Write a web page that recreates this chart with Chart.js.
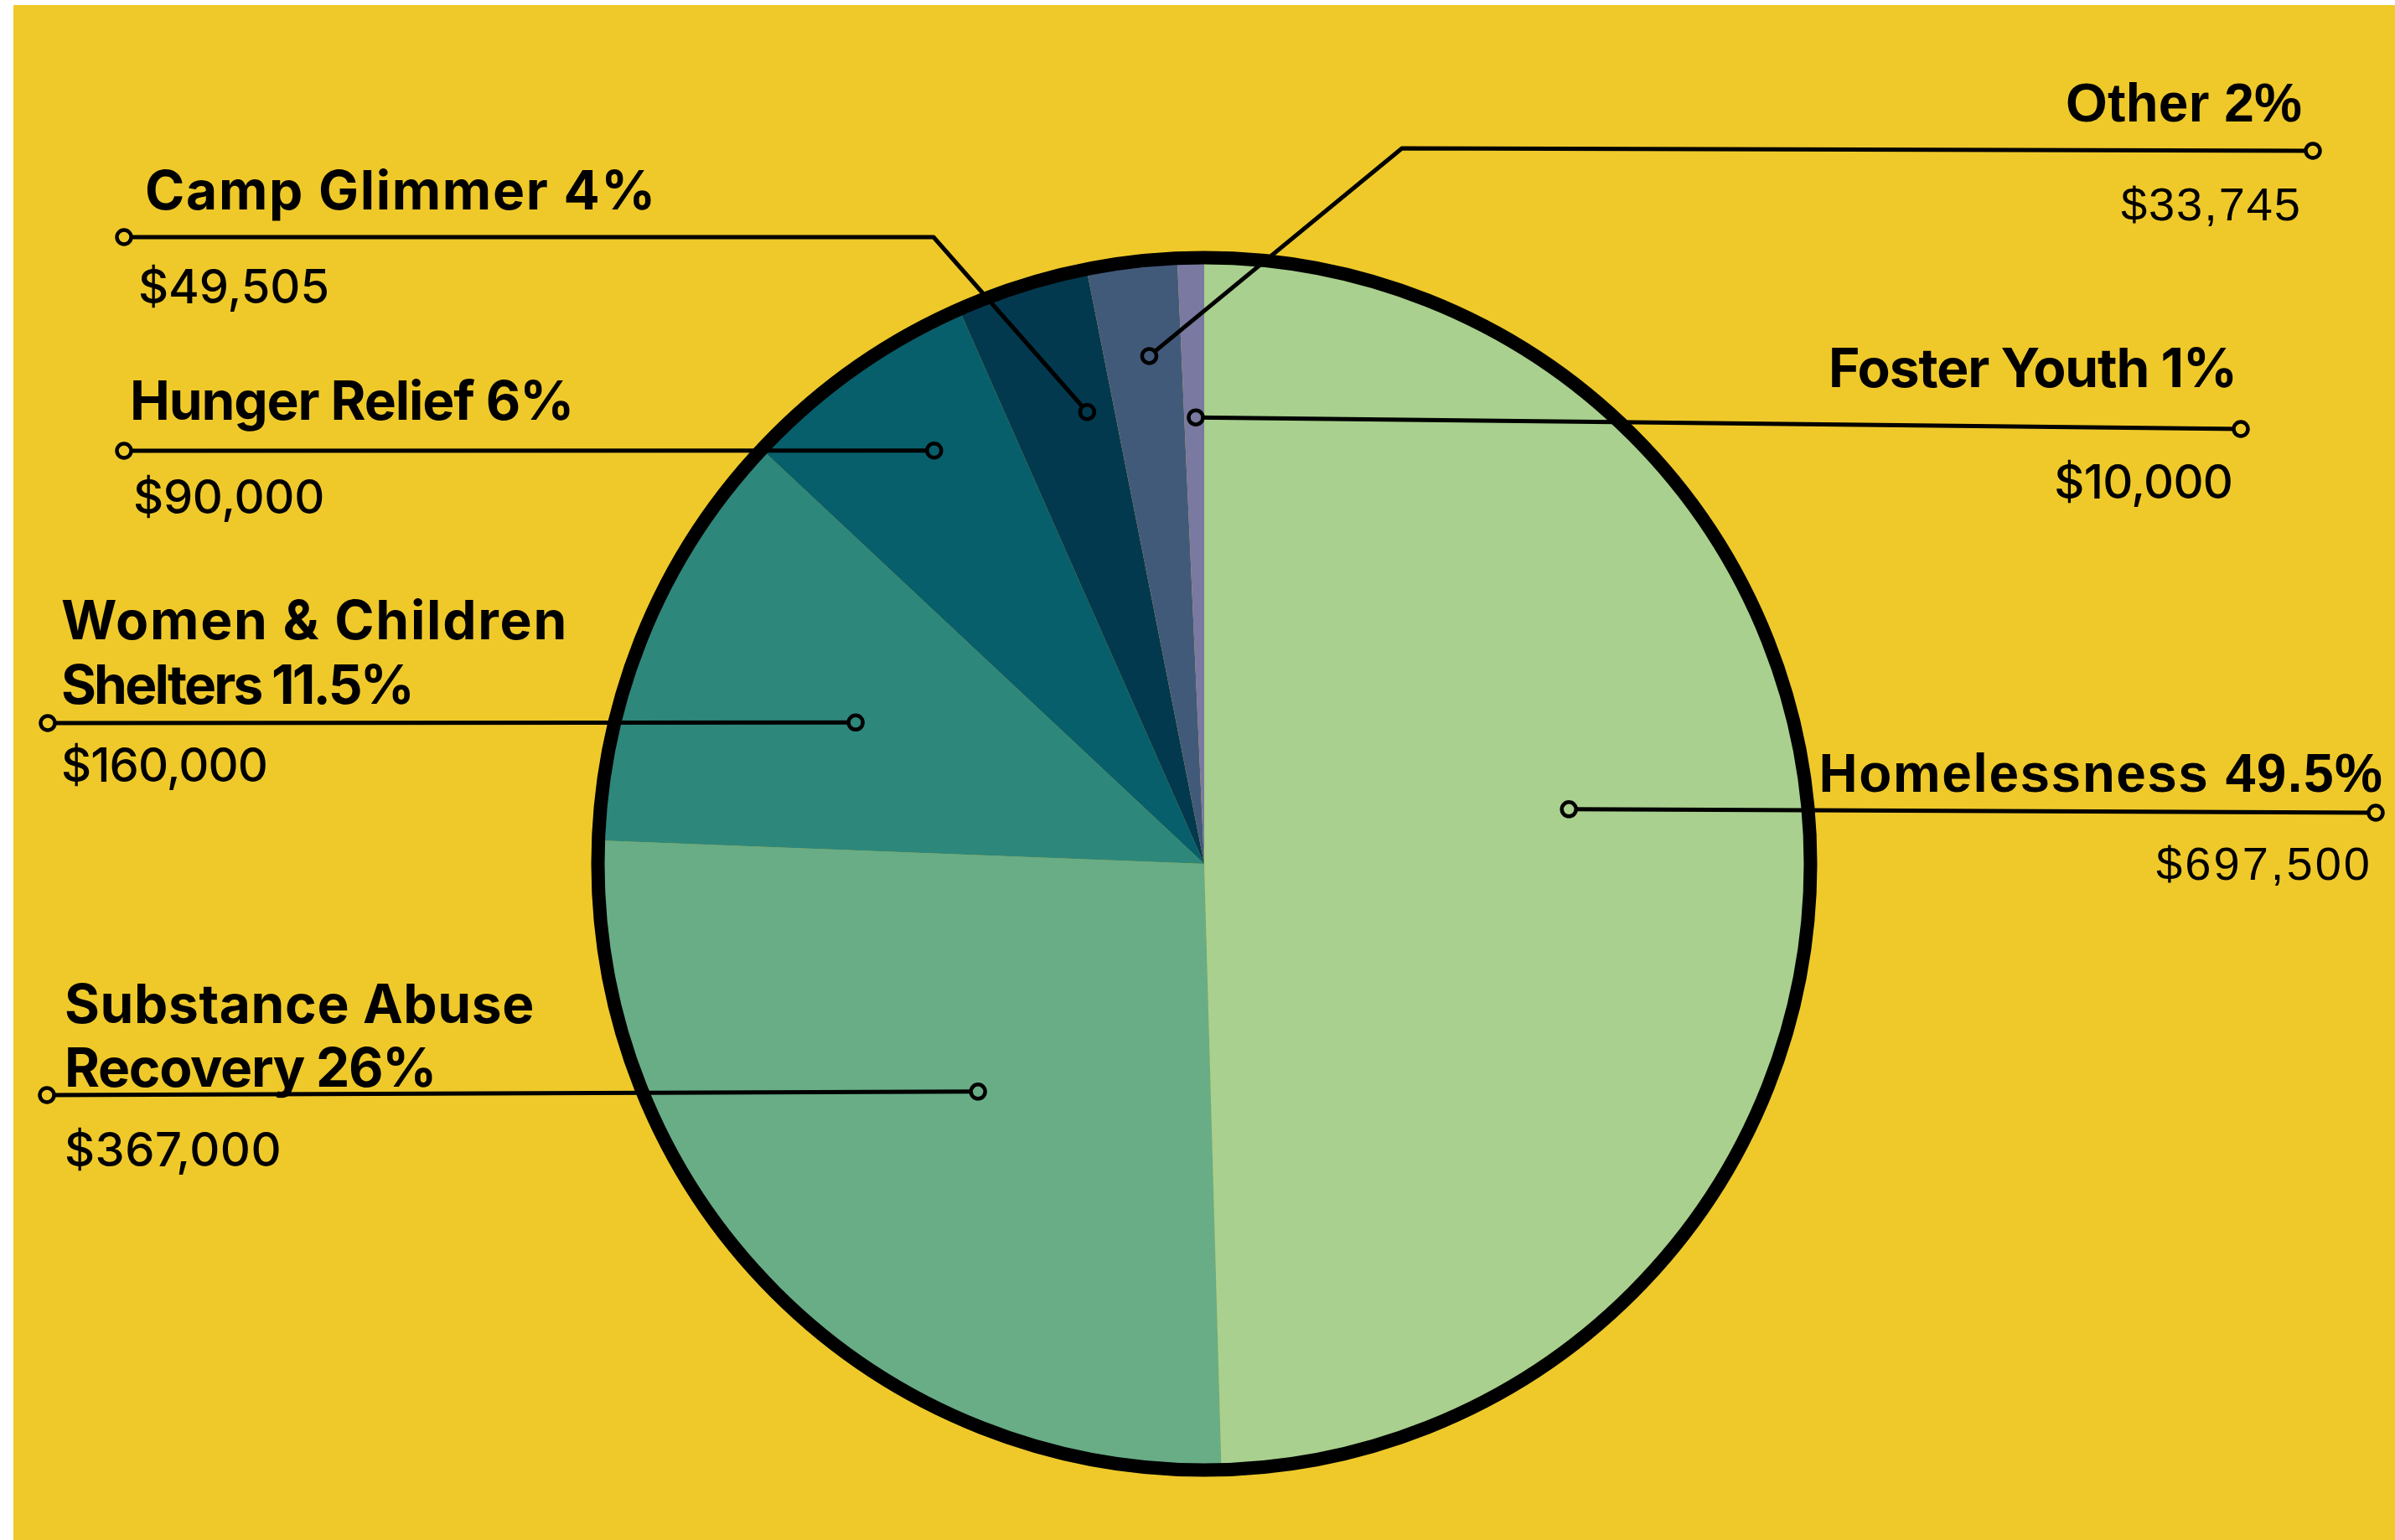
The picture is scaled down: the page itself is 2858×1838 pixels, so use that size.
<!DOCTYPE html>
<html>
<head>
<meta charset="utf-8">
<script src="https://cdn.jsdelivr.net/npm/chart.js@4.4.0/dist/chart.umd.min.js"></script>
<style>
  html, body { margin: 0; padding: 0; background: #ffffff; }
  canvas { display: block; }
</style>
</head>
<body>
<canvas id="c" width="2858" height="1838" style="width:2858px;height:1838px"></canvas>
<script>
// ---- data ----
const categories = ['Homelessness', 'Substance Abuse Recovery', 'Women & Children Shelters', 'Hunger Relief', 'Camp Glimmer', 'Other', 'Foster Youth'];
const amounts = [697500, 367000, 160000, 90000, 49505, 33745, 10000];
const percentLabels = ['49.5%', '26%', '11.5%', '6%', '4%', '2%', '1%'];
const titleLines = [
  ['Homelessness 49.5%'],
  ['Substance Abuse', 'Recovery 26%'],
  ['Women & Children', 'Shelters 11.5%'],
  ['Hunger Relief 6%'],
  ['Camp Glimmer 4%'],
  ['Other 2%'],
  ['Foster Youth 1%']
];
const amountLabels = amounts.map(a => '$' + a.toLocaleString('en-US'));
const colors = ['#A9D08E', '#68AD86', '#2E877B', '#075F6B', '#02394F', '#425A7A', '#7979A1'];

// ---- label layout (styling only) ----
const BG = '#EFC92A';
const labelLayout = [
  { rFrac: 0.602, dAng: -7.7, path: [[2835, 970]], align: 'right', x: 2843, titleBase: [945], titleW: [674], valX: 2828, valBase: 1050, valW: 258, fam: '"Liberation Sans", Arial, sans-serif' },
  { rFrac: 0.524, dAng: -0.5, path: [[56, 1307]], align: 'left', x: 77, titleBase: [1221, 1297], titleW: [561, 443], valX: 77, valBase: 1392, valW: 259, fam: 'Inter, sans-serif' },
  { rFrac: 0.614, dAng: -0.6, path: [[57, 863]], align: 'left', x: 73, titleBase: [763, 840], titleW: [605, 419], valX: 73, valBase: 933, valW: 246, fam: 'Inter, sans-serif' },
  { rFrac: 0.806, dAng: 2.2, path: [[148, 538]], align: 'left', x: 155, titleBase: [501], titleW: [529], valX: 159, valBase: 613, valW: 228, fam: 'Inter, sans-serif' },
  { rFrac: 0.762, dAng: 3.0, path: [[1114, 283], [148, 283]], align: 'left', x: 173, titleBase: [250], titleW: [611], valX: 165, valBase: 362, valW: 228, fam: 'Inter, sans-serif' },
  { rFrac: 0.834, dAng: 0.7, path: [[1673, 177], [2760, 180]], align: 'right', x: 2747, titleBase: [145], titleW: [282], valX: 2745, valBase: 263, valW: 216, fam: '"Liberation Sans", Arial, sans-serif' },
  { rFrac: 0.729, dAng: 0.2, path: [[2674, 512]], align: 'right', x: 2670, titleBase: [462], titleW: [487], valX: 2665, valBase: 595, valW: 213, fam: 'Inter, sans-serif' }
];

function fitText(ctx, text, x, y, targetW, align) {
  ctx.letterSpacing = '0px';
  const w0 = ctx.measureText(text).width;
  let sp = (targetW - w0) / Math.max(1, text.length);
  sp = Math.max(-6, Math.min(6, sp));
  ctx.letterSpacing = sp.toFixed(2) + 'px';
  const w = ctx.measureText(text).width;
  ctx.textAlign = 'left';
  const lx = align === 'right' ? x - w + sp : x;
  ctx.fillText(text, lx, y);
  ctx.letterSpacing = '0px';
}

const bgPlugin = {
  id: 'bg',
  beforeDraw(chart) {
    const ctx = chart.ctx;
    ctx.save();
    ctx.fillStyle = '#ffffff';
    ctx.fillRect(0, 0, chart.width, chart.height);
    ctx.fillStyle = BG;
    ctx.fillRect(16, 6, chart.width - 16, chart.height - 6);
    ctx.restore();
  }
};

const ringAndLabels = {
  id: 'ringAndLabels',
  afterDatasetsDraw(chart) {
    const ctx = chart.ctx;
    const meta = chart.getDatasetMeta(0);
    const arcs = meta.data;
    if (!arcs.length) return;
    const cx = arcs[0].x, cy = arcs[0].y, R = arcs[0].outerRadius;
    ctx.save();
    // outer black ring
    ctx.beginPath();
    ctx.arc(cx, cy, R - 7.5, 0, Math.PI * 2);
    ctx.lineWidth = 16;
    ctx.strokeStyle = '#000';
    ctx.stroke();

    // leader lines
    arcs.forEach((arc, i) => {
      const L = labelLayout[i];
      const mid = (arc.startAngle + arc.endAngle) / 2 + L.dAng * Math.PI / 180;
      const ax = cx + Math.cos(mid) * R * L.rFrac;
      const ay = cy + Math.sin(mid) * R * L.rFrac;
      ctx.beginPath();
      ctx.moveTo(ax, ay);
      L.path.forEach(p => ctx.lineTo(p[0], p[1]));
      ctx.lineWidth = 5;
      ctx.lineJoin = 'round';
      ctx.strokeStyle = '#000';
      ctx.stroke();
      // dots
      const end = L.path[L.path.length - 1];
      [[ax, ay, colors[i]], [end[0], end[1], BG]].forEach(d => {
        ctx.beginPath();
        ctx.arc(d[0], d[1], 8.5, 0, Math.PI * 2);
        ctx.fillStyle = d[2];
        ctx.fill();
        ctx.lineWidth = 4.5;
        ctx.stroke();
      });
    });

    // texts
    ctx.fillStyle = '#000';
    ctx.textBaseline = 'alphabetic';
    labelLayout.forEach((L, i) => {
      ctx.font = '700 64px ' + L.fam;
      titleLines[i].forEach((t, k) => fitText(ctx, t, L.x, L.titleBase[k], L.titleW[k], L.align));
      ctx.font = (L.fam.indexOf('Inter') === 0 ? '500' : '400') + ' 56px ' + L.fam;
      fitText(ctx, amountLabels[i], L.valX, L.valBase, L.valW, L.align);
    });
    ctx.restore();
  }
};

new Chart(document.getElementById('c'), {
  type: 'pie',
  data: {
    labels: categories,
    datasets: [{
      data: amounts,
      backgroundColor: colors,
      borderWidth: 0,
      hoverOffset: 0,
      offset: 0
    }]
  },
  options: {
    responsive: false,
    devicePixelRatio: 1,
    animation: false,
    layout: { padding: { left: 706, right: 690, top: 300, bottom: 76 } },
    plugins: { legend: { display: false }, tooltip: { enabled: false } },
    events: []
  },
  plugins: [bgPlugin, ringAndLabels]
});
</script>
</body>
</html>
